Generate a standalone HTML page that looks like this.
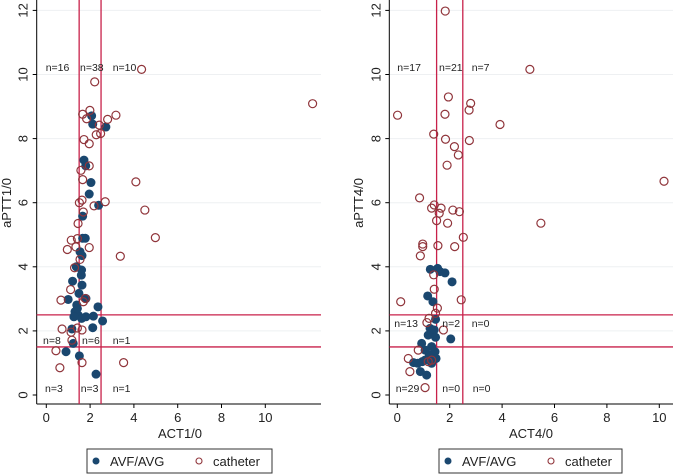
<!DOCTYPE html>
<html><head><meta charset="utf-8"><style>
html,body{margin:0;padding:0;background:#fff;}
svg{display:block;font-family:"Liberation Sans",sans-serif;}
</style></head><body>
<svg id="c" width="675" height="476" viewBox="0 0 675 476" xmlns="http://www.w3.org/2000/svg"></svg>
<script>
const xTicks=[0,2,4,6,8,10];
const yTicks=[0,2,4,6,8,10,12];
const cutoffs=[1.5,2.5];
const leftAvfX=[2.07,2.12,2.72,1.72,1.80,2.04,1.96,2.39,1.66,1.66,1.78,1.54,1.63,1.37,1.61,1.60,1.20,1.63,1.49,1.81,1.0,1.39,2.36,1.31,1.46,1.61,1.81,2.15,2.57,2.12,1.17,1.23,0.9,1.51,2.27,1.42,1.26];
const leftAvfY=[8.71,8.45,8.36,7.33,7.15,6.63,6.27,5.92,5.58,4.89,4.89,4.47,4.35,4.0,3.9,3.74,3.55,3.43,3.17,3.01,2.98,2.81,2.75,2.6,2.49,2.39,2.44,2.46,2.31,2.1,2.06,1.61,1.35,1.22,0.65,2.7,2.44];
const leftCathX=[4.35,2.21,12.16,1.66,1.99,1.84,2.80,3.18,2.42,2.48,2.28,1.72,1.96,1.96,1.58,1.66,4.09,1.63,1.51,2.69,2.18,4.5,1.69,1.45,4.98,1.14,1.42,1.35,0.96,1.96,3.38,1.54,1.29,1.11,0.67,1.69,1.78,0.72,1.13,1.42,1.63,1.17,0.44,0.62,1.63,3.53];
const leftCathY=[10.16,9.77,9.09,8.76,8.88,8.62,8.6,8.73,8.42,8.16,8.12,7.97,7.84,7.15,7.01,6.72,6.65,6.08,6.0,6.03,5.9,5.77,5.71,5.35,4.91,4.83,4.88,4.62,4.54,4.6,4.33,4.23,3.97,3.29,2.96,2.91,3.01,2.06,1.96,2.09,2.03,1.71,1.38,0.85,1.01,1.01];
const rightAvfX=[1.26,1.54,1.63,1.82,2.09,1.16,1.36,1.46,1.25,1.41,1.18,1.46,2.04,0.93,1.31,1.06,1.44,1.22,1.48,0.62,0.95,1.31,0.88,1.12,0.78,1.06];
const rightAvfY=[3.92,3.95,3.85,3.81,3.53,3.09,2.91,2.36,2.08,2.03,1.87,1.8,1.75,1.61,1.51,1.4,1.35,1.25,1.14,1.01,1.04,0.99,0.73,0.62,0.99,1.09];
const rightCathX=[1.83,5.06,1.95,2.8,2.74,0.01,1.82,3.92,1.39,1.84,2.75,2.18,2.33,1.9,10.18,0.85,1.41,1.31,1.67,1.6,2.12,2.37,1.5,1.92,5.48,2.52,0.97,0.97,1.55,2.19,0.88,1.39,1.41,0.13,2.44,1.53,1.46,1.21,1.13,1.76,0.8,0.42,0.48,1.18,1.06,1.31];
const rightCathY=[11.98,10.16,9.3,9.1,8.89,8.73,8.76,8.44,8.14,7.98,7.94,7.75,7.49,7.17,6.67,6.15,5.93,5.83,5.83,5.67,5.77,5.72,5.44,5.36,5.36,4.92,4.71,4.63,4.66,4.63,4.34,3.75,3.3,2.91,2.97,2.71,2.55,2.39,2.26,2.03,1.4,1.14,0.73,1.04,0.23,1.09];
const leftCounts=["n=16","n=38","n=10","n=8","n=6","n=1","n=3","n=3","n=1"];
const rightCounts=["n=17","n=21","n=7","n=13","n=2","n=0","n=29","n=0","n=0"];

const svg=document.getElementById('c');
const NS='http://www.w3.org/2000/svg';
function mk(tag,attrs,parent){const e=document.createElementNS(NS,tag);for(const k in attrs)e.setAttribute(k,attrs[k]);(parent||svg).appendChild(e);return e;}

function panel(cfg){
  const g=mk('g',{});
  
  
  const sx=v=>cfg.x0+v*cfg.kx;
  const sy=v=>395-v*32.05;
  // gridlines
  yTicks.forEach(t=>{if(t===0)return;const l=mk('line',{x1:cfg.axL,x2:cfg.axR,y1:sy(t),y2:sy(t),stroke:'#eef0f2','stroke-width':1},g);
    });
  // axes
  const ya=mk('line',{x1:cfg.axL,x2:cfg.axL,y1:0,y2:404,stroke:'#000','stroke-width':1},g);
  
  const xa=mk('line',{x1:cfg.axL,x2:cfg.axR,y1:404,y2:404,stroke:'#000','stroke-width':1},g);
  
  xTicks.forEach(t=>{
    mk('line',{x1:sx(t),x2:sx(t),y1:404,y2:408,stroke:'#000'},g);
    const tx=mk('text',{x:sx(t),y:422,'font-size':13,'text-anchor':'middle',fill:'#222'},g);
    tx.textContent=t;
  });
  yTicks.forEach(t=>{
    mk('line',{x1:cfg.axL-4,x2:cfg.axL,y1:sy(t),y2:sy(t),stroke:'#000'},g);
    const tx=mk('text',{x:0,y:0,'font-size':13,'text-anchor':'middle',fill:'#222',transform:`translate(${cfg.axL-9},${sy(t)}) rotate(-90)`},g);
    tx.textContent=t;
  });
  const xt=mk('text',{x:cfg.xtX,y:438,'font-size':13,'text-anchor':'middle',fill:'#222'},g);
  xt.textContent=cfg.xTitle;
  const yt=mk('text',{x:0,y:0,'font-size':13,'text-anchor':'middle',fill:'#222',transform:`translate(${cfg.ytX},203) rotate(-90)`},g);
  yt.textContent=cfg.yTitle;
  // cutoff lines
  cutoffs.forEach(c=>{
    const v=mk('line',{x1:sx(c),x2:sx(c),y1:0,y2:404,stroke:'#c8214a','stroke-width':1.3},g);
    
    const h=mk('line',{x1:cfg.axL,x2:cfg.axR,y1:sy(c),y2:sy(c),stroke:'#c8214a','stroke-width':1.3},g);
    
  });
  // points
  cfg.ax.forEach((v,i)=>{const p=mk('circle',{cx:sx(v),cy:sy(cfg.ay[i]),r:4.5,fill:'#1a476f'},g);
    });
  cfg.cx.forEach((v,i)=>{const p=mk('circle',{cx:sx(v),cy:sy(cfg.cy[i]),r:4,fill:'none',stroke:'#90353b','stroke-width':1.2},g);
    });
  // counts
  cfg.counts.forEach((s,i)=>{
    const t=mk('text',{x:cfg.cntX[i],y:cfg.cntY[i],'font-size':10.5,fill:'#222'},g);
    t.textContent=s;
  });
  // legend
  const lg=mk('g',{},g);
  mk('rect',{x:cfg.lgX,y:449,width:cfg.lgW,height:24,fill:'#fff',stroke:'#333','stroke-width':1},lg);
  mk('circle',{cx:cfg.lgX+9,cy:461,r:3.5,fill:'#1a476f'},lg);
  const a=mk('text',{x:cfg.lgX+23,y:466,'font-size':13,fill:'#222'},lg);a.textContent='AVF/AVG';
  
  mk('circle',{cx:cfg.lgX+112,cy:461,r:3,fill:'none',stroke:'#90353b','stroke-width':1.1},lg);
  const b=mk('text',{x:cfg.lgX+126,y:466,'font-size':13,fill:'#222'},lg);b.textContent='catheter';
  
}
panel({name:'left-panel',x0:46.3,kx:21.9,axL:36.7,axR:321,xtX:180,ytX:11,xTitle:'ACT1/0',yTitle:'aPTT1/0',
  ax:leftAvfX,ay:leftAvfY,cx:leftCathX,cy:leftCathY,counts:leftCounts,
  cntX:[45.7,80,112.7,43,82,112.7,45,80.7,112.7],cntY:[71,71,71,344,344,344,392,392,392],lgX:87,lgW:185});
panel({name:'right-panel',x0:397.3,kx:26.2,axL:389.3,axR:673,xtX:531,ytX:363,xTitle:'ACT4/0',yTitle:'aPTT4/0',
  ax:rightAvfX,ay:rightAvfY,cx:rightCathX,cy:rightCathY,counts:rightCounts,
  cntX:[397.3,439,471.7,394.3,442.3,471.7,395.7,442.3,472.7],cntY:[71,71,71,327,327,327,392,392,392],lgX:439,lgW:183});
</script>
</body></html>
